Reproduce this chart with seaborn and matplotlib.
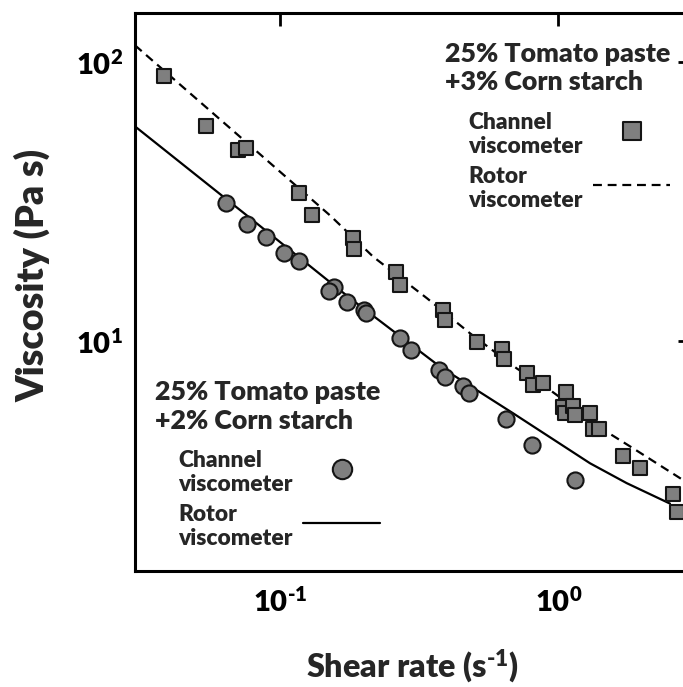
import math
import matplotlib
matplotlib.use("Agg")
import matplotlib.pyplot as plt
from matplotlib import ticker
import seaborn as sns

# Channel viscometer: 25% tomato paste + 3% corn starch
shear_3pct = [0.0381, 0.0538, 0.0702, 0.0753, 0.1163, 0.130, 0.1825, 0.1845, 0.2612, 0.270,
              0.386, 0.3916, 0.509, 0.626, 0.638, 0.774, 0.813, 0.883, 1.066, 1.04,
              1.057, 1.127, 1.148, 1.30, 1.336, 1.404, 1.712, 1.966, 2.577, 2.664]
visc_3pct = [89.1, 58.8, 48.3, 49.2, 34.0, 28.2, 23.3, 21.4, 17.7, 15.8,
             12.9, 11.9, 9.87, 9.34, 8.60, 7.68, 6.94, 7.07, 6.55, 5.80,
             5.51, 5.83, 5.42, 5.52, 4.85, 4.85, 3.88, 3.49, 2.82, 2.44]

# Channel viscometer: 25% tomato paste + 2% corn starch
shear_2pct = [0.0638, 0.0759, 0.0891, 0.1028, 0.1163, 0.1554, 0.149, 0.1737, 0.1991, 0.2029,
              0.2684, 0.2956, 0.3736, 0.3916, 0.4556, 0.4788, 0.6487, 0.8023, 1.148]
visc_2pct = [31.2, 26.2, 23.6, 20.6, 19.3, 15.6, 15.1, 13.8, 12.9, 12.6,
             10.2, 9.26, 7.85, 7.43, 6.88, 6.51, 5.23, 4.23, 3.17]

# Rotor viscometer flow curves
rotor_shear_3pct = [0.030, 0.0780, 0.1512, 0.2159, 0.3374, 0.4817, 0.7088, 0.9337, 1.492, 1.860, 3.0]
rotor_visc_3pct = [114.6, 50.0, 28.1, 20.0, 14.19, 10.63, 7.96, 6.66, 4.72, 4.115, 3.04]
rotor_shear_2pct = [0.030, 0.0780, 0.1785, 0.3758, 0.6892, 1.300, 1.761, 2.52]
rotor_visc_2pct = [58.7, 27.5, 14.19, 8.07, 5.49, 3.64, 3.09, 2.61]

x_ticks = [0.1, 1.0]
y_ticks = [10, 100]

title_3pct = ["25% Tomato paste", "+3% Corn starch"]
title_2pct = ["25% Tomato paste", "+2% Corn starch"]
label_channel = "Channel\nviscometer"
label_rotor = "Rotor\nviscometer"

sns.set_style("white")
plt.rcParams["font.family"] = ["Lato", "DejaVu Sans"]
plt.rcParams["font.weight"] = "heavy"
plt.rcParams["mathtext.fontset"] = "custom"
plt.rcParams["mathtext.rm"] = "Lato:heavy"
plt.rcParams["mathtext.bf"] = "Lato:heavy"
plt.rcParams["mathtext.it"] = "Lato:heavy"

W, H = 683, 687
fig = plt.figure(figsize=(W / 100, H / 100), dpi=100)
left, right, top, bottom = 135, 691, 12.7, 570.7
ax = fig.add_axes([left / W, 1 - bottom / H, (right - left) / W, (bottom - top) / H])

fill = "#7f7f7f"
edge = "#151515"

sns.lineplot(x=rotor_shear_3pct, y=rotor_visc_3pct, ax=ax, color="black", lw=1.6,
             linestyle=(0, (4, 2.6)), estimator=None, sort=False)
dash_line = ax.lines[-1]
sns.lineplot(x=rotor_shear_2pct, y=rotor_visc_2pct, ax=ax, color="black", lw=1.6,
             estimator=None, sort=False)
solid_line = ax.lines[-1]

sns.scatterplot(x=shear_3pct, y=visc_3pct, ax=ax, marker="s", s=112, color=fill,
                edgecolor=edge, linewidth=1.5, zorder=3)
squares = ax.collections[-1]
sns.scatterplot(x=shear_2pct, y=visc_2pct, ax=ax, marker="o", s=135, color=fill,
                edgecolor=edge, linewidth=1.5, zorder=3)
circles = ax.collections[-1]

ax.set_xscale("log")
ax.set_yscale("log")
ax.set_xlim(0.03, 3.0)
ax.set_ylim(1.5, 150)
ax.xaxis.set_major_locator(ticker.FixedLocator(x_ticks))
ax.yaxis.set_major_locator(ticker.FixedLocator(y_ticks))
ax.xaxis.set_minor_locator(ticker.NullLocator())
ax.yaxis.set_minor_locator(ticker.NullLocator())


def decade_label(v, pos):
    e = round(math.log10(v))
    exp = r"\text{-}%d" % abs(e) if e < 0 else "%d" % e
    return r"$\mathdefault{10^{%s}}$" % exp


fmt = ticker.FuncFormatter(decade_label)
ax.xaxis.set_major_formatter(fmt)
ax.yaxis.set_major_formatter(fmt)
ax.tick_params(which="major", direction="in", length=9.5, width=2, top=True, right=True,
               labelsize=21, color="black", labelcolor="black")
ax.tick_params(axis="x", pad=12)
ax.tick_params(axis="y", pad=8.5)
for lab in ax.get_xticklabels() + ax.get_yticklabels():
    lab.set_fontweight("heavy")
for sp in ax.spines.values():
    sp.set_linewidth(2.2)
    sp.set_color("black")

ax.set_xlabel(r"Shear rate (s$^{\mathdefault{\text{-}1}}$)", fontsize=23.2, fontweight="heavy")
ax.set_ylabel("Viscosity (Pa s)", fontsize=27, fontweight="heavy")
ax.xaxis.set_label_coords((412 - left) / (right - left), -(647 - bottom) / (bottom - top))
ax.yaxis.set_label_coords((50 - left) / (right - left), (bottom - 275) / (bottom - top))


def px(x, y):
    return x / W, 1 - y / H


# Group titles
for txt, (x, y) in zip(title_3pct, [(445, 61.7), (445, 90)]):
    fig.text(*px(x, y), txt, fontsize=19.3, fontweight="heavy", va="baseline", ha="left")
for txt, (x, y) in zip(title_2pct, [(155, 400), (155, 429)]):
    fig.text(*px(x, y), txt, fontsize=19.3, fontweight="heavy", va="baseline", ha="left")

leg_kw = dict(frameon=False, markerfirst=False, loc="upper left", borderpad=0,
              borderaxespad=0, handlelength=3.4, handleheight=1.8, handletextpad=0.45,
              labelspacing=0.36, markerscale=1.2, scatterpoints=1,
              prop={"size": 16.4, "weight": "heavy"}, bbox_transform=fig.transFigure)

leg_top = ax.legend([squares, dash_line], [label_channel, label_rotor],
                    bbox_to_anchor=px(468.3, 112), **leg_kw)
for t in leg_top.get_texts():
    t.set_linespacing(1.2)
ax.add_artist(leg_top)
leg_bot = ax.legend([circles, solid_line], [label_channel, label_rotor],
                    bbox_to_anchor=px(178.3, 450), **leg_kw)
for t in leg_bot.get_texts():
    t.set_linespacing(1.2)

fig.savefig("out.png", dpi=100)
